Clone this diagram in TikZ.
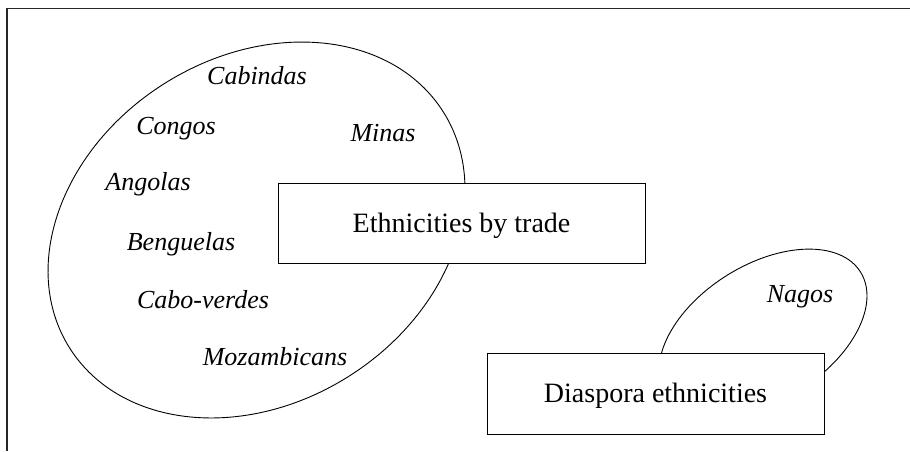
\documentclass[tikz,border=0pt]{standalone}
\usepackage{fontspec}
\setmainfont{Liberation Serif}
\begin{document}
\begin{tikzpicture}[x=1pt,y=1pt,
  lbl/.style={font=\fontsize{26}{29}\selectfont\itshape, anchor=base, inner sep=0pt},
  catbox/.style={draw, fill=white, line width=0.9pt, font=\fontsize{28}{32}\selectfont,
    text height=20pt, text depth=2pt, inner sep=0pt},
  blob/.style={line width=0.9pt},
  frameline/.style={line width=1.1pt, draw=black!85}
]
\useasboundingbox (0,0) rectangle (910,-451);
% frame
\coordinate (ftr) at (910,-8.5);
\coordinate (ftl) at (7,-8.5);
\coordinate (fbl) at (7,-451);
\draw[frameline] (ftr) -- (ftl) -- (fbl);
% ellipses
\draw[blob, shift={(256.5,-230)}, rotate=32.3] (0,0) ellipse [x radius=221, y radius=173];
\draw[blob, shift={(763,-333)}, rotate=32] (0,0) ellipse [x radius=115, y radius=68];
% boxes
\node[catbox, minimum width=367pt, minimum height=80pt] (trade) at (461.5,-223) {Ethnicities by trade};
\node[catbox, minimum width=337pt, minimum height=81pt] (diaspora) at (655.5,-393.5) {Diaspora ethnicities};
% labels
\node[lbl] (cabindas) at (257,-84) {Cabindas};
\node[lbl] (congos) at (176,-134) {Congos};
\node[lbl] (minas) at (383,-141) {Minas};
\node[lbl] (angolas) at (148,-190) {Angolas};
\node[lbl] (benguelas) at (181,-250) {Benguelas};
\node[lbl] (caboverdes) at (203,-308) {Cabo-verdes};
\node[lbl] (mozambicans) at (275,-365) {Mozambicans};
\node[lbl] (nagos) at (800,-302) {Nagos};
\end{tikzpicture}
\end{document}
